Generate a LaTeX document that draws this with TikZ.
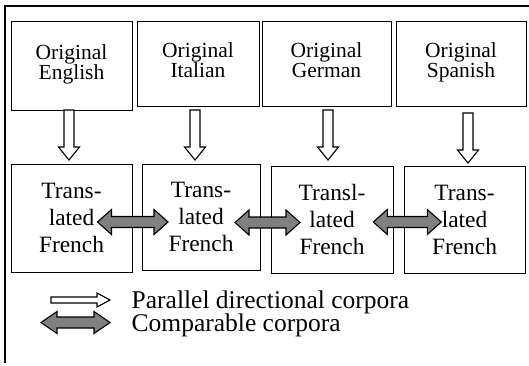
\documentclass[tikz,border=0pt]{standalone}
\usepackage{fontspec}
\setmainfont{Liberation Serif}
\definecolor{arrgray}{HTML}{808080}
\newcommand\DblArr[6]{% x1, x2, yc, shaft half, head half, head length
  \draw[grayarr] (#1,#3) -- (#1+#6,#3-#5) -- (#1+#6,#3-#4) -- (#2-#6,#3-#4) -- (#2-#6,#3-#5) -- (#2,#3)
    -- (#2-#6,#3+#5) -- (#2-#6,#3+#4) -- (#1+#6,#3+#4) -- (#1+#6,#3+#5) -- cycle;}
\newcommand\DownArr[3]{% xc, ytop, ytip
  \draw[hollow] (#1-5,#2) -- (#1+5,#2) -- (#1+5,#3-13) -- (#1+10.5,#3-13) -- (#1,#3)
    -- (#1-10.5,#3-13) -- (#1-5,#3-13) -- cycle;}
\tikzset{
  box/.style={draw, line width=0.9pt, inner sep=0pt, align=center},
  topbox/.style={box, font=\fontsize{21.5}{20}\selectfont},
  botbox/.style={box, font=\fontsize{23.4}{27}\selectfont},
  hollow/.style={draw, line width=1.1pt, fill=white, line join=miter},
  grayarr/.style={draw, line width=1.1pt, fill=arrgray, line join=miter},
  frame/.style={line width=2pt},
  legend/.style={anchor=base west, inner sep=0pt, font=\fontsize{25.5}{30}\selectfont}
}
\begin{document}
\begin{tikzpicture}[x=1pt, y=-1pt]
\useasboundingbox (0,0) rectangle (529,366);
\draw[frame] (529,6) -- (5,6) -- (5,363);
% top boxes
\node[topbox, minimum width=121pt, minimum height=89pt] (o1) at (71.5,65.5) {Original\\English\strut};
\node[topbox, minimum width=122pt, minimum height=85pt] (o2) at (198,63.5) {Original\\Italian\strut};
\node[topbox, minimum width=129pt, minimum height=85pt] (o3) at (326.5,63.5) {Original\\German\strut};
\node[topbox, minimum width=130pt, minimum height=85pt] (o4) at (461,63.5) {Original\\Spanish\strut};
% bottom boxes
\node[botbox, minimum width=121pt, minimum height=108pt] (t1) at (71.5,218) {Trans-\\lated\\French};
\node[botbox, minimum width=118pt, minimum height=106pt] (t2) at (201,217) {Trans-\\lated\\French};
\node[botbox, minimum width=122pt, minimum height=107pt] (t3) at (332,219.5) {Transl-\\lated\\French};
\node[botbox, minimum width=121pt, minimum height=107pt] (t4) at (464.5,219.5) {Trans-\\lated\\French};
% parallel arrows
\DownArr{69}{110}{160}
\DownArr{195}{110}{160}
\DownArr{328}{110}{160}
\DownArr{468}{113}{163}
% comparable arrows
\DblArr{97.5}{168}{222}{5.5}{12.5}{14}
\DblArr{235}{300}{222.5}{5.5}{12.5}{14}
\DblArr{373.3}{441.3}{222}{5.5}{12.5}{14}
% legend
\draw[hollow] (51,297) -- (97,297) -- (97,293) -- (110,300) -- (97,307) -- (97,303) -- (51,303) -- cycle;
\DblArr{41}{110}{322.5}{5.5}{11}{16}
\node[legend] (l1) at (131.5,308.3) {Parallel directional corpora};
\node[legend] (l2) at (131.5,331.5) {Comparable corpora};
\end{tikzpicture}
\end{document}
